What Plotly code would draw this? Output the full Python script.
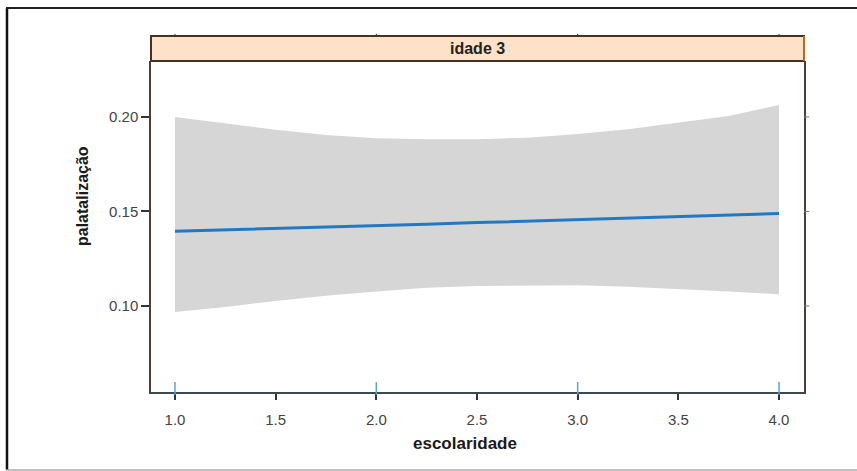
import plotly.graph_objects as go

# data
escolaridade = [1.0, 1.25, 1.5, 1.75, 2.0, 2.25, 2.5, 2.75, 3.0, 3.25, 3.5, 3.75, 4.0]
fit = [0.1395, 0.1402, 0.1410, 0.1418, 0.1425, 0.1433, 0.1441, 0.1449, 0.1457, 0.1465, 0.1473, 0.1481, 0.1489]
upper = [0.2000, 0.1965, 0.1932, 0.1905, 0.1888, 0.1882, 0.1882, 0.1890, 0.1910, 0.1935, 0.1968, 0.2005, 0.2063]
lower = [0.0968, 0.0995, 0.1027, 0.1054, 0.1077, 0.1096, 0.1106, 0.1110, 0.1110, 0.1102, 0.1088, 0.1076, 0.1062]
rug_x = [1.0, 2.0, 3.0, 4.0]
x_ticks = [1.0, 1.5, 2.0, 2.5, 3.0, 3.5, 4.0]
x_ticklabels = ["1.0", "1.5", "2.0", "2.5", "3.0", "3.5", "4.0"]
y_ticks = [0.10, 0.15, 0.20]
y_ticklabels = ["0.10", "0.15", "0.20"]
strip_label = "idade 3"
x_title = "escolaridade"
y_title = "palatalização"

W, H = 857, 471
L, R, T, B = 151, 804, 36, 392  # plot box incl. strip (pixels)
strip_bottom = 61
ydom_top = (B - strip_bottom) / (B - T)

def px(xp):
    return (xp - L) / (R - L)

def py(yp):
    return (B - yp) / (B - T)

fig = go.Figure()
fig.add_trace(go.Scatter(x=escolaridade + escolaridade[::-1], y=upper + lower[::-1],
                         fill="toself", fillcolor="#d6d6d6", line=dict(width=0),
                         mode="lines", hoverinfo="skip", showlegend=False))
fig.add_trace(go.Scatter(x=escolaridade, y=fit, mode="lines",
                         line=dict(color="#2378c3", width=3), showlegend=False))

tickfont = dict(family="Liberation Sans Narrow, Liberation Sans, Arial", size=15, color="#444444")
titlefont = dict(family="Liberation Sans, Arial", size=17, color="#1a1a1a")

shapes = [
    # strip
    dict(type="rect", xref="paper", yref="paper", x0=0, x1=1, y0=ydom_top, y1=1,
         fillcolor="#fde1c8", line=dict(color="#4a3020", width=2), layer="above"),
    dict(type="line", xref="paper", yref="paper", x0=1, x1=1, y0=ydom_top, y1=1,
         line=dict(color="#c8641e", width=2), layer="above"),
    # outer frame
    dict(type="line", xref="paper", yref="paper", x0=px(7), x1=px(7), y0=py(470), y1=py(8),
         line=dict(color="#111111", width=2.5)),
    dict(type="line", xref="paper", yref="paper", x0=px(6), x1=px(857), y0=py(8), y1=py(8),
         line=dict(color="#222222", width=2)),
    dict(type="line", xref="paper", yref="paper", x0=px(6), x1=px(857), y0=py(470), y1=py(470),
         line=dict(color="#aaaaaa", width=1.5)),
]
# rug marks
shapes += [
    dict(type="line", xref="x", yref="y domain", x0=v, x1=v, y0=-0.008, y1=0.03,
         line=dict(color="#5aa0d8", width=1.5), layer="above")
    for v in rug_x
]
# small right-side ticks
shapes += [
    dict(type="line", xref="x domain", yref="y", x0=1.0, x1=1.008, y0=v, y1=v,
         line=dict(color="#777777", width=1))
    for v in y_ticks
]
# small ticks on top of strip
shapes += [
    dict(type="line", xref="x", yref="paper", x0=v, x1=v, y0=1.0, y1=1.006,
         line=dict(color="#333333", width=1))
    for v in x_ticks[::2]
]

fig.update_layout(
    width=W, height=H,
    margin=dict(l=L, r=W - R, t=T, b=H - B),
    paper_bgcolor="white", plot_bgcolor="white",
    xaxis=dict(range=[0.881, 4.124], tickvals=x_ticks, ticktext=x_ticklabels,
               ticks="outside", ticklen=6, tickcolor="#333333", tickwidth=1.5,
               ticklabelstandoff=7,
               showgrid=False, zeroline=False, showline=True, linecolor="#3a4a4a",
               linewidth=1.5, mirror=False, tickfont=tickfont, domain=[0, 1]),
    yaxis=dict(range=[0.0545, 0.2296], tickvals=y_ticks, ticktext=y_ticklabels,
               ticks="outside", ticklen=8, tickcolor="#333333", tickwidth=1.5,
               showgrid=False, zeroline=False, showline=True, linecolor="#4a4038",
               linewidth=1.5, mirror=True, tickfont=tickfont,
               domain=[0, ydom_top]),
    shapes=shapes,
    annotations=[
        dict(text="<b>" + strip_label + "</b>", xref="paper", yref="paper", x=0.5,
             y=(1 + ydom_top) / 2, showarrow=False,
             font=dict(family="Liberation Sans, Arial", size=16, color="#222222"),
             xanchor="center", yanchor="middle"),
        dict(text="<b>" + x_title + "</b>", xref="paper", yref="paper", x=px(465), y=py(444),
             showarrow=False, font=titlefont, xanchor="center", yanchor="middle"),
        dict(text="<b>" + y_title + "</b>", xref="paper", yref="paper", x=px(82), y=py(196),
             showarrow=False, textangle=-90, font=dict(family="Liberation Sans, Arial", size=16, color="#1a1a1a"),
             xanchor="center", yanchor="middle"),
    ],
)
fig.write_html("out.html")
